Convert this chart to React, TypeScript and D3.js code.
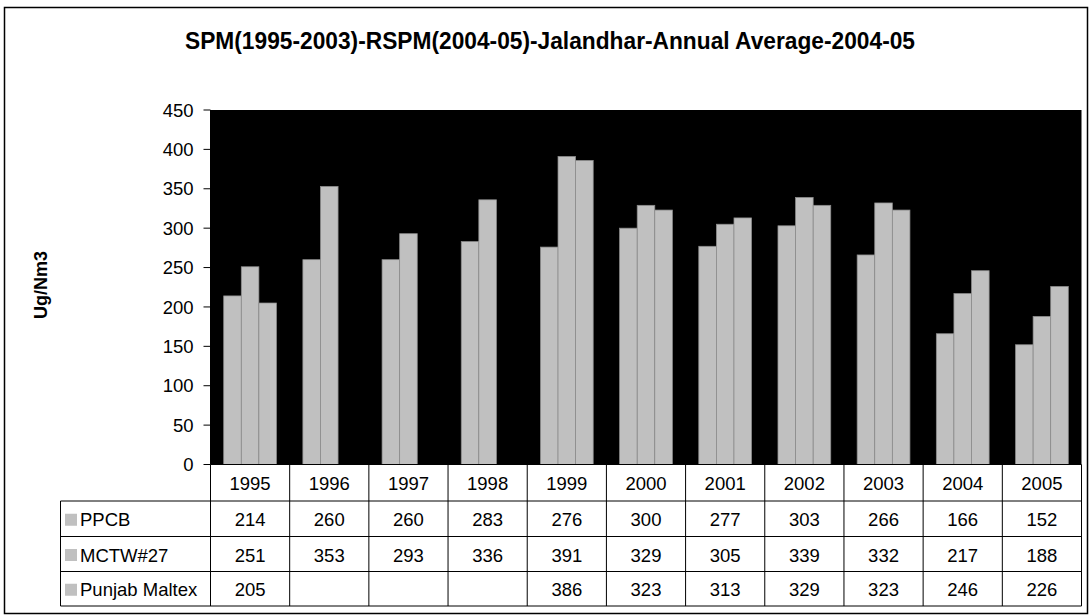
import React from "react";
import * as d3 from "d3";

const years = ["1995","1996","1997","1998","1999","2000","2001","2002","2003","2004","2005"];
const seriesNames = ["PPCB", "MCTW#27", "Punjab Maltex"];
const ppcb = [214, 260, 260, 283, 276, 300, 277, 303, 266, 166, 152];
const mctw = [251, 353, 293, 336, 391, 329, 305, 339, 332, 217, 188];
const punjab: (number | null)[] = [205, null, null, null, 386, 323, 313, 329, 323, 246, 226];
const yTicks = [0, 50, 100, 150, 200, 250, 300, 350, 400, 450];
const title = "SPM(1995-2003)-RSPM(2004-05)-Jalandhar-Annual Average-2004-05";
const yLabel = "Ug/Nm3";

const FONT = "'Liberation Sans', Arial, sans-serif";

export default function App() {
  const W = 1092, H = 616;
  const plotL = 210.5, plotR = 1081.5, plotT = 110, plotB = 464.5;
  const x = d3.scaleBand<string>().domain(years).range([plotL, plotR]);
  const bw = x.bandwidth();
  const groupW = (bw * 3) / 4.5;
  const xs = d3.scaleBand<string>().domain(seriesNames).range([(bw - groupW) / 2, (bw + groupW) / 2]);
  const y = d3.scaleLinear().domain([0, 450]).range([plotB, plotT]);
  const series = [ppcb, mctw, punjab];

  const tableL = 60.5;
  const rowTops = [plotB, 501, 536.5, 571.5, 606];
  const fill = "#C0C0C0";
  const fs = 18.5;

  return (
    <svg width={W} height={H} style={{ position: "absolute", left: 0, top: 0, background: "#fff" }} fontFamily={FONT}>
      <rect x={4.5} y={7.5} width={1083} height={606} fill="#fff" stroke="#000" strokeWidth={1.5} />
      <text x={550} y={49} textAnchor="middle" fontSize={23} fontWeight="bold" textLength={730} lengthAdjust="spacingAndGlyphs">{title}</text>
      <text transform={`translate(47,285) rotate(-90)`} textAnchor="middle" fontSize={18} fontWeight="bold">{yLabel}</text>

      <rect x={plotL} y={plotT} width={plotR - plotL} height={plotB - plotT} fill="#000" />
      {series.map((vals, si) =>
        vals.map((v, i) =>
          v == null ? null : (
            <rect key={`${si}-${i}`} x={(x(years[i]) as number) + (xs(seriesNames[si]) as number)} y={y(v)}
              width={xs.bandwidth()} height={y(0) - y(v)} fill={fill} stroke="#8c8c8c" strokeWidth={0.75} />
          )
        )
      )}
      <line x1={plotL} x2={plotL} y1={plotT} y2={plotB} stroke="#000" />
      {yTicks.map((t) => (
        <g key={t}>
          <line x1={plotL - 7} x2={plotL} y1={y(t)} y2={y(t)} stroke="#000" />
          <text x={plotL - 17} y={y(t) + 6.7} textAnchor="end" fontSize={fs}>{t}</text>
        </g>
      ))}

      {/* table */}
      <g stroke="#000" strokeWidth={1} fill="none">
        <line x1={plotL} x2={plotR} y1={plotB} y2={plotB} />
        {rowTops.slice(1).map((ry, i) => (
          <line key={i} x1={tableL} x2={plotR} y1={ry} y2={ry} />
        ))}
        <line x1={tableL} x2={tableL} y1={rowTops[1]} y2={rowTops[4]} />
        {years.map((yr) => (
          <line key={yr} x1={x(yr)} x2={x(yr)} y1={plotB} y2={rowTops[4]} />
        ))}
        <line x1={plotR} x2={plotR} y1={plotB} y2={rowTops[4]} />
      </g>
      {years.map((yr) => (
        <text key={yr} x={(x(yr) as number) + bw / 2} y={(rowTops[0] + rowTops[1]) / 2 + 7.5} textAnchor="middle" fontSize={fs}>{yr}</text>
      ))}
      {series.map((vals, si) => {
        const cy = (rowTops[si + 1] + rowTops[si + 2]) / 2;
        return (
          <g key={si}>
            <rect x={65} y={cy - 5} width={12} height={12} fill={fill} />
            <text x={80} y={cy + 7.5} fontSize={fs}>{seriesNames[si]}</text>
            {vals.map((v, i) =>
              v == null ? null : (
                <text key={i} x={(x(years[i]) as number) + bw / 2} y={cy + 7.5} textAnchor="middle" fontSize={fs}>{v}</text>
              )
            )}
          </g>
        );
      })}
    </svg>
  );
}
